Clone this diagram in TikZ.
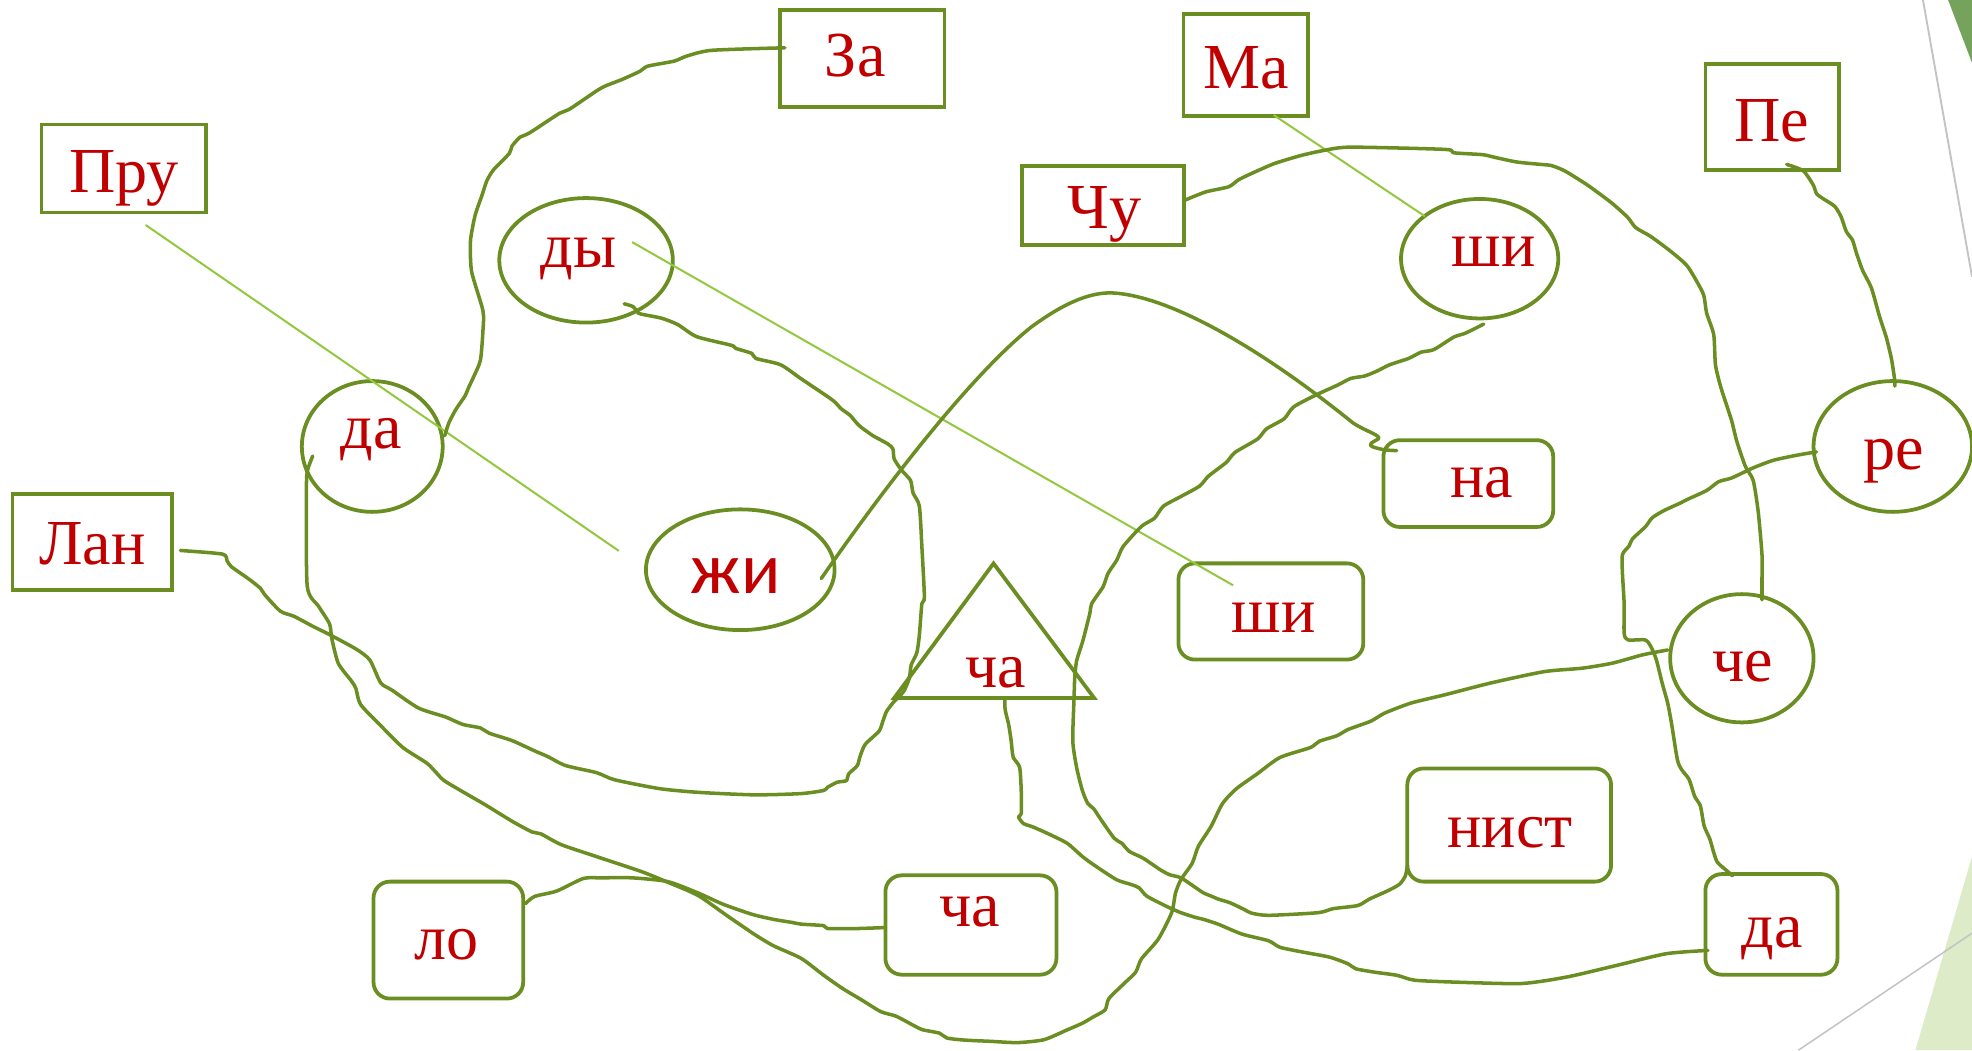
\documentclass[tikz,border=0pt]{standalone}
\usepackage{fontspec}
\setmainfont{Liberation Serif}
\newfontfamily\zhfont{Carlito}
\usetikzlibrary{shapes.geometric,calc}
\definecolor{olivegreen}{RGB}{107,142,35}
\definecolor{hintgreen}{RGB}{146,200,62}
\definecolor{txtred}{RGB}{192,0,0}
\definecolor{edgegray}{RGB}{195,195,195}
\definecolor{deckdark}{RGB}{117,163,92}
\definecolor{decklight}{RGB}{221,235,200}
\tikzset{
  box/.style={draw=olivegreen, line width=3pt, rectangle, inner sep=0pt},
  rbox/.style={box, rounded corners=13pt},
  ell/.style={draw=olivegreen, line width=3pt, ellipse, inner sep=0pt},
  lbl/.style={text=txtred, font=\fontsize{51}{55}\selectfont, inner sep=0pt, anchor=base},
  wire/.style={draw=olivegreen, line width=2.8pt, line cap=round, line join=round},
  hint/.style={draw=hintgreen, line width=1.6pt},
}
\begin{document}
\begin{tikzpicture}[x=1pt,y=-1pt]
\useasboundingbox (0,0) rectangle (1568,835);
% background decorations
\fill[deckdark] (1549,0) -- (1568,0) -- (1568,50) -- cycle;
\draw[edgegray, line width=1.5pt] (1529,0) -- (1568,220);
\fill[decklight] (1523,835) -- (1568,681) -- (1568,835) -- cycle;
\draw[edgegray, line width=1.2pt] (1430,835) -- (1568,742);

% rectangles
\node[box, minimum width=131pt, minimum height=77pt] (za) at (685.5,46.5) {};
\node[lbl] (za-t) at (680,60.5) {За};
\node[box, minimum width=99pt, minimum height=81pt] (ma) at (990.5,51.5) {};
\node[lbl] (ma-t) at (991,70.4) {Ма};
\node[box, minimum width=106pt, minimum height=84pt] (pe) at (1409,93) {};
\node[lbl] (pe-t) at (1409,112.4) {Пе};
\node[box, minimum width=131pt, minimum height=70pt] (pru) at (98.5,134) {};
\node[lbl] (pru-t) at (98.7,152.8) {Пру};
\node[box, minimum width=129pt, minimum height=63pt] (chu) at (877,163.5) {};
\node[lbl] (chu-t) at (878,181.4) {Чу};
\node[box, minimum width=127pt, minimum height=76pt] (lan) at (73.5,431) {};
\node[lbl] (lan-t) at (73.5,449) {Лан};

% ellipses
\node[ell, minimum width=138pt, minimum height=99pt] (dyE) at (466,207) {};
\node[lbl] (dy-t) at (460,213) {ды};
\node[ell, minimum width=112pt, minimum height=104pt] (daE) at (296,355) {};
\node[lbl] (da-t) at (295,357) {да};
\node[ell, minimum width=150pt, minimum height=96pt] (zhE) at (588.6,453) {};
\node[lbl, font=\zhfont\fontsize{58}{60}\selectfont] (zh-t) at (585,472) {жи};
\node[ell, minimum width=125pt, minimum height=95pt] (shiE) at (1176.5,205.7) {};
\node[lbl] (shi-t) at (1187.6,211.7) {ши};
\node[ell, minimum width=126pt, minimum height=104pt] (reE) at (1505,355) {};
\node[lbl] (re-t) at (1506,373.4) {ре};
\node[ell, minimum width=114pt, minimum height=102pt] (cheE) at (1385,523.4) {};
\node[lbl] (che-t) at (1385.5,541.8) {че};

% triangle
\coordinate (triTop) at (790,448);
\coordinate (triL) at (711,555);
\coordinate (triR) at (870,555);
\draw[olivegreen, line width=3pt, line join=miter] (triTop) -- (triR) -- (triL) -- cycle;
\node[lbl] (cha-t) at (792,547) {ча};

% rounded boxes
\node[rbox, minimum width=135pt, minimum height=69pt] (na) at (1167.5,384.5) {};
\node[lbl] (na-t) at (1178,395.5) {на};
\node[rbox, minimum width=147pt, minimum height=76.5pt] (shiB) at (1010.5,486.2) {};
\node[lbl] (shiB-t) at (1012.6,502.8) {ши};
\node[rbox, minimum width=162pt, minimum height=90pt] (nist) at (1200,656) {};
\node[lbl] (nist-t) at (1200.7,673.8) {нист};
\node[rbox, minimum width=136pt, minimum height=79pt] (chaB) at (772,735.5) {};
\node[lbl] (chaB-t) at (771,736.7) {ча};
\node[rbox, minimum width=119pt, minimum height=93pt] (lo) at (356.5,747.5) {};
\node[lbl] (lo-t) at (355,762.6) {ло};
\node[rbox, minimum width=105pt, minimum height=80pt] (daB) at (1408.5,735) {};
\node[lbl] (daB-t) at (1409,753) {да};

% connector ends
\coordinate (c1a) at ($(za.center)+(-61.5,-8.5)$);
\coordinate (c1b) at ($(daE.center)+(57.6,-8.6)$);
\coordinate (c2a) at ($(lan.center)+(70,6.7)$);
\coordinate (c2b) at ($(dyE.center)+(30.3,34.6)$);
\coordinate (c3a) at ($(daE.center)+(-47.4,7.6)$);
\coordinate (c3b) at ($(cheE.center)+(-59,-6.6)$);
\coordinate (c4a) at ($(chu.center)+(65.5,-4.5)$);
\coordinate (c4b) at ($(cheE.center)+(16,-46.4)$);
\coordinate (c5a) at ($(pe.center)+(11.6,37.7)$);
\coordinate (c5b) at ($(reE.center)+(1.6,-48)$);
\coordinate (c6a) at ($(reE.center)+(-60.7,4.3)$);
\coordinate (c6b) at ($(daB.center)+(-31,-38.7)$);
\coordinate (c7a) at ($(zhE.center)+(64.4,7)$);
\coordinate (c7b) at ($(na.center)+(-57,-26.2)$);
\coordinate (c8a) at ($(shiE.center)+(3.2,52)$);
\coordinate (c8b) at ($(nist.center)+(-81,32.4)$);
\coordinate (c9a) at ($(triL)!0.553!(triR)$);
\coordinate (c9b) at ($(daB.center)+(-50.5,20.7)$);
\coordinate (c10a) at ($(lo.center)+(61.3,-29)$);
\coordinate (c10b) at ($(chaB.center)+(-68,2)$);

% light straight lines
\draw[hint] ($(pru.center)+(17.3,44.9)$) -- ($(zhE.center)+(-96.6,-15)$);
\draw[hint] ($(dyE.center)+(36.6,-14.5)$) -- ($(shiB.center)+(-30,-20.8)$);
\draw[hint] ($(ma.center)+(22.3,40)$) -- ($(shiE.center)+(-43.5,-33.7)$);

% wavy connectors
\draw[wire] plot[smooth, tension=0.4] coordinates {(c1a) (566,40) (546,44.6) (536,48.6) (515,52.6) (509,56.6) (495,63) (481,68.5) (474,72.5) (452.5,87) (445,90) (421,105.7) (413.6,109) (407,116.3) (405,122) (392.4,135) (387,144) (383,156) (378.4,169) (376,179.4) (374,193) (375,216) (384,247) (384,263) (382,286.4) (376.7,299.4) (373,307.3) (369.6,315) (362.5,325.5) (357,336) (c1b)};

\draw[wire] plot[smooth, tension=0.4] coordinates {(c2a) (177,440.6) (180.6,446) (184,450.6) (198,460.5) (207,467.7) (210.6,473) (223,486) (233.7,490) (248,497.6) (262,504.6) (283,516) (294,524.7) (302.7,543) (311.6,548.7) (332.8,563) (354,570) (368,576) (382,578.8) (389,583) (407,588.8) (425,597) (435.6,601.6) (449.7,608.7) (474.5,614.4) (488.6,620) (524,627) (555,630) (600,632) (637,631) (655,628.5) (658,626) (665.6,622) (673,620.7) (674.7,615.4) (681.6,608.8) (684,601) (688,591.8) (699,581.3) (702,573.4) (705,565.5) (711,557.7) (718.5,549.8) (723,539.3) (724.5,528.8) (729,519) (731,505) (733,480) (735,474.7) (733,434.6) (731,402.5) (726,392) (724,382) (717,374) (711,365) (710,357) (706,353) (693.9,346.3) (683,338.3) (676,330.3) (668.8,325) (661.8,318) (636.6,300.9) (620.6,290) (601,285) (597.8,281) (585,277) (581.7,274.6) (554,267.7) (538.8,258) (526,253) (513,250.4) (507.6,249) (503.4,243.8) (c2b)};

\draw[wire] plot[smooth, tension=0.4] coordinates {(c3a) (244.3,375) (243.6,393.4) (244.3,466.2) (253.2,481.9) (262,496) (263.8,507.6) (269,527.5) (279.7,541.8) (283,547.5) (286.8,560.3) (304.5,578.8) (320.5,594.5) (340,607.3) (352.3,620) (366.5,628.7) (386,640) (407,652.9) (423,661.5) (430,663) (446,671.5) (471,680) (510,693) (531,701.5) (555,712) (578,728) (600,743) (615,752) (637,762) (655,775.5) (670,786) (685,795) (700.4,804.4) (712.5,808) (727.6,816) (733.6,818.8) (747,821.5) (753,825.4) (767,827) (788,828) (809,829) (830,826.7) (848.5,818.9) (860.6,813.6) (869.6,808.4) (878.7,803) (881.7,794) (893.8,782) (903,773) (907.6,762.4) (921,746.7) (931.6,725.7) (934.7,710) (939,699.4) (948,686.3) (952.8,673) (963,657) (972,639) (983,627.2) (999.5,615.4) (1017.7,602.3) (1041.9,594.4) (1049,589.4) (1063,585) (1072,580) (1090,573.4) (1101,567) (1122,559) (1149,552.4) (1185.6,543) (1228,534) (1258,531.3) (1282,527.3) (1306,520.7) (c3b)};

\draw[wire] plot[smooth, tension=0.4] coordinates {(c4a) (959,152.5) (977,148.5) (984.7,143) (995,138) (1013.4,130) (1034.6,123.6) (1052.7,119.6) (1073.8,117) (1149,118.8) (1156,121.5) (1179,123) (1188,125) (1206,128.8) (1224.7,130.7) (1233.4,131.6) (1244,135.8) (1262,147) (1281,161) (1294,172.6) (1300.6,181) (1312.5,188) (1328,199.5) (1341,210.8) (1349,223.5) (1354.7,234.8) (1357,249) (1362.6,266) (1364,290) (1368,307) (1373,322.5) (1377,335) (1381,351) (1387.7,370.6) (1394,382) (1398,407) (1401,441) (1401,460) (c4b)};

\draw[wire] plot[smooth, tension=0.4] coordinates {(c5a) (1433.8,135.8) (1441.7,147) (1444.4,154) (1449.6,158) (1458.8,164) (1464,172.6) (1468,184) (1473,191) (1476,200.9) (1481,215) (1488,229) (1494.5,251.8) (1500,268.8) (1504,285.7) (1506.6,302.7) (c5b)};

\draw[wire] plot[smooth, tension=0.4] coordinates {(c6a) (1428.5,362) (1410,366) (1394,372) (1377,380) (1366.5,383) (1357,390) (1341,397.4) (1336,400) (1323,406) (1313.8,411.6) (1308.5,418.6) (1298,428.5) (1295.4,434) (1290,441) (1290,455) (1291.4,480) (1291.4,503.6) (1294.5,508.8) (1308,508.8) (1312.6,514) (1317,524.6) (1321.6,543) (1326,559) (1329,574.8) (1333.7,603.9) (1337,611.8) (1343,619.7) (1347.4,633) (1352,640.8) (1355,656.7) (1359.5,667) (1362.6,677.8) (1365.6,685.7) (1373,692.3) (c6b)};

% smooth arch from zhi to na
\draw[wire] (c7a) .. controls (700,392) and (770,300) .. (820,260)
  .. controls (850,238) and (870,232) .. (886,233)
  .. controls (930,236) and (1000,275) .. (1075.8,336.3)
  .. controls (1088,344) and (1098,346) .. (1096,349)
  .. controls (1093,351) and (1086,353) .. (1092,355.5)
  .. controls (1097,357) and (1100,358) .. (c7b);

\draw[wire] plot[smooth, tension=0.4] coordinates {(c8a) (1165,265) (1156,268) (1140,278) (1130,280) (1120,285) (1105,290) (1095,295) (1085,299) (1074,300.9) (1064,306) (1046,314.2) (1028.5,323.6) (1021,333) (1007,341) (1000,349) (982,359.7) (975,367.7) (961,378.5) (953.8,386.5) (939.5,394.5) (925,402.5) (918,412) (907.5,418.6) (893,434.6) (888,445.3) (881,456) (877,466.7) (868,480) (866.5,488) (861,509.5) (856,525.6) (854.5,540) (854,555) (853,589) (856,610) (860.6,628.5) (865,639) (869.6,643) (875.6,652) (886,666.6) (892,670.5) (898,677) (909,682.4) (922.5,691.5) (930,695.5) (939,698) (951,706) (957,710) (963,712.5) (969,715) (978,717.8) (989,723) (995,726) (1008.6,727.8) (1048,725.7) (1060,722.5) (1079.6,720) (1089,714.8) (1104,708) (1113,702.9) (1117.5,696.3) (c8b)};

\draw[wire] plot[smooth, tension=0.4] coordinates {(c9a) (799.2,564.2) (802,576) (804,589) (805.6,602) (810.7,610) (812,628.5) (812,647) (809.8,649.5) (813.7,654.8) (821,657.4) (833,662.7) (848.5,670.5) (860.6,681) (869.6,687.6) (887.7,699.4) (899.8,703.4) (905.8,706) (911.8,712.5) (927,720.4) (939,725.7) (951,729.6) (957,731) (969,735) (987.5,742.7) (1008.6,748) (1017.7,753.2) (1035.8,757) (1057,761) (1072,766.4) (1078,770.3) (1093,773) (1110.8,775.5) (1125,779.4) (1160,781) (1210,782) (1246,776.8) (1285.5,767.6) (1325,758.3) (c9b)};

\draw[wire] plot[smooth, tension=0.4] coordinates {(c10a) (425,712.8) (442.6,708.5) (463.8,698.5) (478,698) (502.8,698) (531,701) (555,710) (575,719) (598,727) (615,731) (630,733.5) (637,734.8) (655,736) (658,738.3) (682,738.3) (c10b)};
\end{tikzpicture}
\end{document}
